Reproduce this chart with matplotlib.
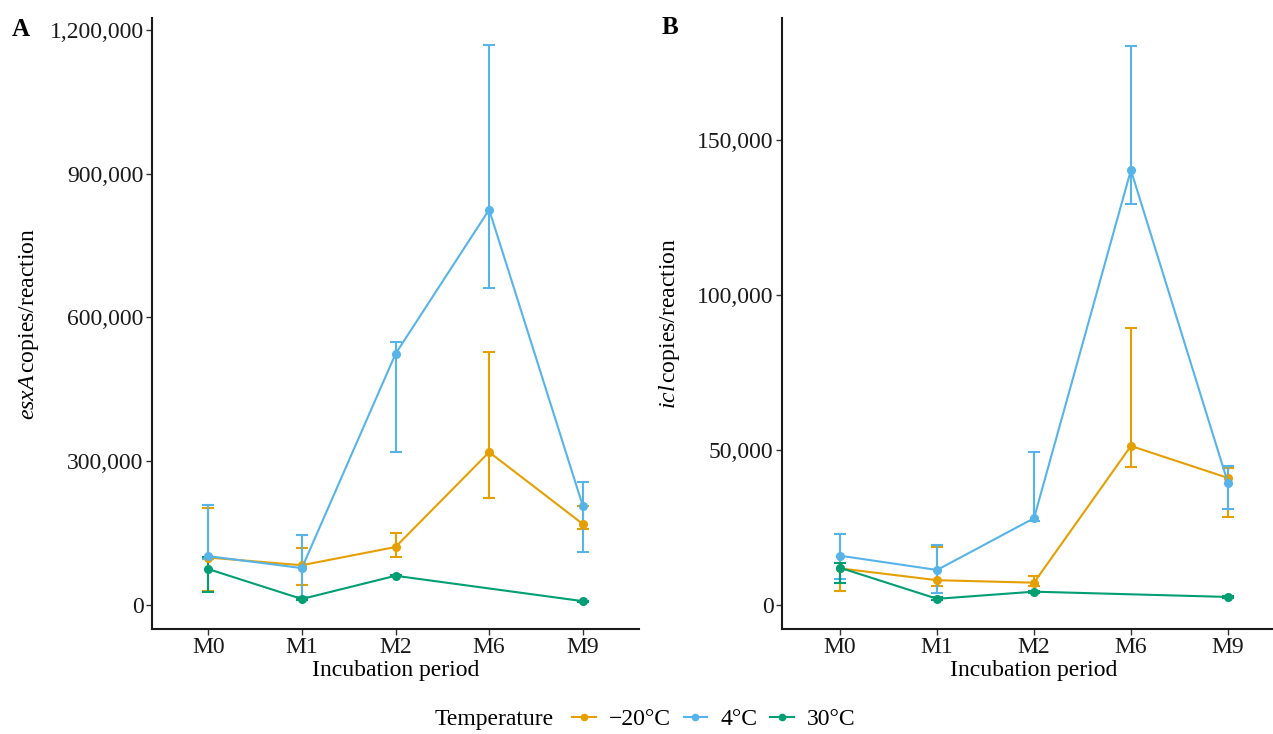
import numpy as np
import matplotlib
matplotlib.use("Agg")
import matplotlib.pyplot as plt
from matplotlib.lines import Line2D
from matplotlib.ticker import FuncFormatter

plt.rcParams['font.family'] = ['Liberation Serif', 'DejaVu Serif']
plt.rcParams['mathtext.fontset'] = 'custom'
plt.rcParams['mathtext.rm'] = 'Liberation Serif'
plt.rcParams['mathtext.it'] = 'Liberation Serif:italic'

periods = ["M0", "M1", "M2", "M6", "M9"]
temps = ["\u221220\u00b0C", "4\u00b0C", "30\u00b0C"]
colors = ["#E69F00", "#56B4E9", "#009E73"]

# panel A: esxA copies/reaction (mean, lower, upper)
esxa_mean = {
    "\u221220\u00b0C": [99000, 83000, 121000, 319000, 169000],
    "4\u00b0C": [102000, 77000, 524000, 825000, 207000],
    "30\u00b0C": [75000, 12500, 61000, None, 8000],
}
esxa_lo = {
    "\u221220\u00b0C": [29000, 42000, 100000, 224000, 158000],
    "4\u00b0C": [95000, 17000, 319000, 662000, 111000],
    "30\u00b0C": [28000, 11000, 60000, None, 7000],
}
esxa_hi = {
    "\u221220\u00b0C": [202000, 119000, 150000, 528000, 207000],
    "4\u00b0C": [209000, 146000, 548000, 1168000, 257000],
    "30\u00b0C": [100000, 14000, 62000, None, 9000],
}

# panel B: icl copies/reaction
icl_mean = {
    "\u221220\u00b0C": [11800, 8000, 7200, 51300, 41000],
    "4\u00b0C": [15900, 11300, 28000, 140300, 39500],
    "30\u00b0C": [12000, 2000, 4300, None, 2600],
}
icl_lo = {
    "\u221220\u00b0C": [4600, 6000, 6000, 44600, 28500],
    "4\u00b0C": [8400, 3900, 27200, 129400, 31000],
    "30\u00b0C": [7000, 1500, 4000, None, 2300],
}
icl_hi = {
    "\u221220\u00b0C": [22800, 18700, 9500, 89400, 44300],
    "4\u00b0C": [23000, 19400, 49500, 180300, 44800],
    "30\u00b0C": [13600, 2500, 4600, None, 2900],
}


def draw_panel(ax, mean, lo, hi, ylim, yticks, ylabel, lpad):
    for t, c in zip(temps, colors):
        idx = [i for i, v in enumerate(mean[t]) if v is not None]
        x = np.array(idx)
        m = np.array([mean[t][i] for i in idx], float)
        l = np.array([lo[t][i] for i in idx], float)
        h = np.array([hi[t][i] for i in idx], float)
        ax.errorbar(x, m, yerr=[m - l, h - m], color=c, lw=1.5,
                    elinewidth=1.5, capsize=4.5, capthick=1.5,
                    marker='o', markersize=5.5)
    ax.set_xlim(-0.6, 4.6)
    ax.set_ylim(*ylim)
    ax.set_xticks(range(len(periods)))
    ax.set_xticklabels(periods)
    ax.set_yticks(yticks)
    ax.yaxis.set_major_formatter(FuncFormatter(lambda v, p: f"{int(v):,}"))
    ax.tick_params(labelsize=17, length=4, width=1, color='#333333',
                   labelcolor='#1a1a1a', pad=2)
    for s in ('top', 'right'):
        ax.spines[s].set_visible(False)
    for s in ('left', 'bottom'):
        ax.spines[s].set_linewidth(1.5)
        ax.spines[s].set_color('#1a1a1a')
    ax.set_xlabel("Incubation period", fontsize=17, labelpad=1)
    ax.set_ylabel(ylabel, fontsize=17, labelpad=lpad)


fig = plt.figure(figsize=(12.73, 7.34), dpi=100)
W, H = 1273, 734
axA = fig.add_axes([152 / W, 1 - 629 / H, (639 - 152) / W, (629 - 18) / H])
axB = fig.add_axes([782 / W, 1 - 629 / H, (1286 - 782) / W, (629 - 18) / H])

draw_panel(axA, esxa_mean, esxa_lo, esxa_hi, (-50100, 1225000),
           [0, 300000, 600000, 900000, 1200000],
           r"$\mathit{esxA}\,$copies/reaction", 6)
draw_panel(axB, icl_mean, icl_lo, icl_hi, (-7740, 189350),
           [0, 50000, 100000, 150000],
           r"$\mathit{icl}\,$copies/reaction", 11)

fig.text(12 / W, 1 - 30 / H, "A", fontsize=18, fontweight='bold', va='center')
fig.text(662 / W, 1 - 28 / H, "B", fontsize=18, fontweight='bold', va='center')

fig.text(435 / W, 1 - 719 / H, "Temperature", fontsize=17, va='center')
handles = [Line2D([], [], color=c, lw=1.5, marker='o', markersize=4.5)
           for c in colors]
fig.legend(handles, temps, loc='center left', bbox_to_anchor=(572 / W, 1 - 719 / H),
           ncol=3, frameon=False, fontsize=17, handlelength=1.0,
           handletextpad=0.55, columnspacing=0.55, borderaxespad=0, borderpad=0)

fig.savefig("out.png", dpi=100)
